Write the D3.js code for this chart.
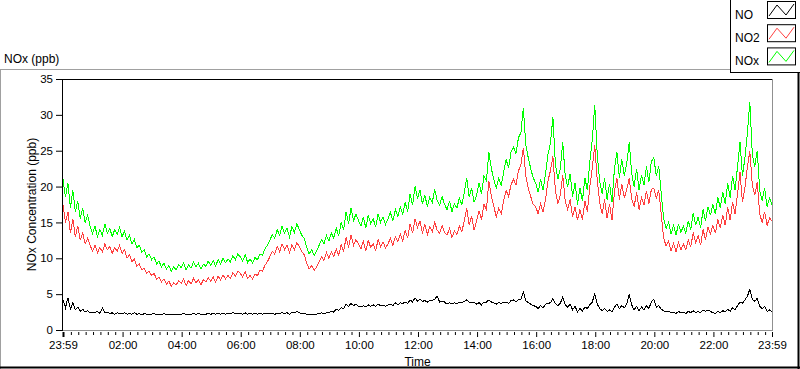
<!DOCTYPE html>
<html lang="en">
<head>
<meta charset="UTF-8">
<title>NOx (ppb)</title>
<script src="https://cdn.jsdelivr.net/npm/d3@7"></script>
<style>
  body { margin: 0; background: #fff; }
  svg { display: block; font-family: "Liberation Sans", Arial, sans-serif; }
  .axis text { fill: #000; }
  .axis line { stroke: #000; }
</style>
</head>
<body>
<svg width="800" height="369"></svg>
<script>
// series, in the order the chart draws them
var seriesNames = ["NO", "NO2", "NOx"];
var seriesColors = ["#000000", "#ff4040", "#00ff00"];

var yTicks = [0, 5, 10, 15, 20, 25, 30, 35];
var xTickLabels = ["23:59", "02:00", "04:00", "06:00", "08:00", "10:00", "12:00",
                   "14:00", "16:00", "18:00", "20:00", "22:00", "23:59"];

// one reading every 5 minutes, 23:59 to 23:59 next day (12 per row = 1 hour)
var sampleMinutes = 5;

var no = [
  4.2, 3.1, 4.5, 2.9, 3.8, 2.8, 3.2, 2.6, 2.9, 2.5, 2.7, 2.4,
  2.5, 2.4, 2.6, 2.3, 3.1, 2.4, 2.5, 2.3, 2.4, 2.2, 2.4, 2.3,
  2.3, 2.4, 2.2, 2.3, 2.2, 2.4, 2.2, 2.3, 2.1, 2.3, 2.2, 2.2,
  2.2, 2.3, 2.1, 2.2, 2.1, 2.3, 2.1, 2.2, 2.1, 2.2, 2.1, 2.2,
  2.2, 2.3, 2.2, 2.2, 2.2, 2.3, 2.2, 2.3, 2.2, 2.2, 2.2, 2.3,
  2.2, 2.3, 2.2, 2.3, 2.2, 2.3, 2.2, 2.3, 2.3, 2.4, 2.3, 2.3,
  2.3, 2.2, 2.4, 2.2, 2.3, 2.2, 2.3, 2.2, 2.3, 2.2, 2.3, 2.3,
  2.3, 2.3, 2.2, 2.3, 2.3, 2.4, 2.3, 2.4, 2.2, 2.5, 2.4, 2.6,
  2.4, 2.3, 2.3, 2.2, 2.1, 2.2, 2.1, 2.2, 2.3, 2.4, 2.3, 2.4,
  2.4, 2.6, 2.5, 2.9, 2.7, 3.1, 3.0, 3.6, 3.3, 3.7, 3.4, 3.6,
  3.3, 3.2, 3.4, 3.2, 3.5, 3.3, 3.5, 3.3, 3.6, 3.4, 3.5, 3.3,
  3.5, 3.6, 3.4, 3.8, 3.5, 3.8, 3.7, 3.9, 3.7, 4.2, 3.9, 4.5,
  4.0, 4.3, 4.0, 4.1, 3.9, 4.1, 4.1, 4.3, 4.7, 3.9, 4.0, 3.9,
  3.6, 3.8, 3.6, 3.8, 3.7, 3.9, 3.8, 4.0, 4.2, 3.9, 3.9, 3.9,
  3.6, 3.8, 3.5, 3.9, 3.9, 4.2, 3.9, 3.8, 3.6, 3.8, 3.7, 3.9,
  3.9, 3.7, 4.1, 4.2, 3.9, 4.2, 4.3, 5.3, 4.1, 3.8, 3.6, 3.4,
  3.3, 3.0, 3.4, 3.1, 3.6, 3.7, 3.8, 4.4, 3.7, 3.4, 3.7, 4.6,
  3.5, 3.2, 3.6, 2.8, 3.3, 2.5, 3.0, 2.6, 3.2, 3.0, 3.5, 3.9,
  5.1, 3.6, 3.0, 2.7, 3.0, 2.6, 2.8, 2.5, 3.2, 3.6, 3.0, 3.4,
  3.1, 3.6, 5.0, 3.5, 2.8, 3.3, 2.7, 3.2, 2.8, 3.4, 3.0, 3.9,
  4.3, 3.2, 3.4, 2.9, 2.7, 2.5, 2.6, 2.4, 2.5, 2.3, 2.6, 2.4,
  2.5, 2.3, 2.6, 2.4, 2.7, 2.4, 2.6, 2.4, 2.8, 2.6, 2.8, 2.6,
  2.4, 2.3, 2.6, 2.4, 2.7, 2.5, 2.9, 2.6, 3.1, 2.8, 3.4, 3.9,
  3.7, 4.2, 4.7, 5.7, 4.3, 4.0, 4.4, 3.3, 3.0, 3.3, 2.6, 2.8,
  2.5
];

var no2 = [
  17.5, 15, 16.5, 13.5, 15.5, 13, 14.5, 12.5, 13.5, 12, 12.8, 11.8,
  11, 11.8, 10.8, 11.5, 10.9, 12, 11.2, 11.6, 10.7, 11.5, 11, 11.8,
  10.7, 11.2, 10, 10.5, 9.5, 9.9, 8.9, 9.2, 8.4, 8.6, 7.9, 8.2,
  7.6, 7.9, 7.1, 7.4, 6.7, 7.1, 6.4, 6.8, 6.1, 6.6, 6.3, 6.9,
  6.5, 7.1, 6.2, 6.9, 6.4, 7.2, 6.6, 7, 6.3, 7, 6.7, 7.3,
  6.8, 7.4, 6.7, 7.5, 7, 7.7, 7.1, 7.6, 7.2, 8, 7.5, 8.2,
  7.9, 7.4, 8.1, 7.2, 7.6, 7.1, 7.8, 7.6, 8.3, 8.2, 9, 9.5,
  10.2, 11, 10.6, 11.7, 10.9, 12, 11.2, 11.8, 10.8, 11.9, 11.2, 12.2,
  11.6, 10.9, 10.5, 9.3, 8.5, 9, 8.3, 8.8, 9.5, 10.2, 9.7, 10.8,
  10, 10.9, 10.3, 11.3, 10.4, 11.9, 11, 12.9, 11.5, 13.3, 11.8, 12.6,
  12, 11.3, 12.4, 11, 12.5, 11.5, 12, 11.1, 12.6, 11.6, 12.3, 11.4,
  12, 12.8, 11.8, 13, 12.3, 13.4, 12.4, 13.9, 12.8, 14.8, 13.5, 15.5,
  14.3, 15.2, 13.6, 14.7, 13.3, 14.4, 13.7, 15, 13.9, 13.5, 14.6, 13.6,
  13.2, 14.2, 12.9, 13.8, 13.3, 14.5, 13.7, 15.2, 17, 14.6, 15.9, 13.9,
  15.3, 16.6, 15.4, 17.5, 16.8, 20.8, 18.6, 17.2, 15.8, 17, 16.2, 18,
  19.5, 18.6, 20.3, 21, 20.2, 22.2, 23, 25.4, 21.5, 19.8, 18.6, 17.5,
  17.2, 16.2, 17.6, 16.4, 18.2, 20.8, 22.2, 24.2, 19.5, 17.6, 18.8, 21.6,
  18, 16.8, 18.2, 15.8, 17.2, 15.3, 16.8, 15.4, 18, 16.5, 20, 22.6,
  25.8, 21, 17.8, 16.2, 18.2, 15.6, 17.6, 15.3, 19.3, 21.2, 18.2, 20.4,
  18.4, 19.6, 21.2, 18.3, 17.2, 19.2, 16.8, 18.4, 17.4, 19.4, 17.6, 19.6,
  19.8, 18.4, 19.5, 16.2, 12.8, 11.7, 12.4, 11, 12.1, 10.9, 12.2, 11.2,
  12, 11.2, 12.6, 11.6, 13.6, 12.2, 13.2, 11.8, 14, 12.6, 14.4, 13.4,
  14.6, 13.5, 15.4, 14.2, 16, 14.6, 17.1, 15.3, 17.9, 16.2, 19, 22,
  17.8, 19.8, 22.8, 24.9, 20.2, 18.8, 20.6, 16.2, 15, 16.5, 14.6, 15.6,
  15.2
];

var nox = [
  21, 18.5, 20.5, 17, 19.5, 16.5, 18, 15.5, 17, 15, 16, 14.5,
  13.5, 14.5, 13, 14, 13.2, 14.8, 13.5, 14.2, 13, 14, 13.3, 14.3,
  13, 13.8, 12.5, 13.2, 12, 12.6, 11.5, 11.8, 10.8, 11.2, 10.2, 10.6,
  9.8, 10.2, 9.2, 9.6, 8.8, 9.3, 8.5, 9, 8.2, 8.8, 8.4, 9.1,
  8.7, 9.4, 8.4, 9.1, 8.6, 9.5, 8.8, 9.3, 8.5, 9.2, 8.9, 9.6,
  9, 9.7, 8.9, 9.8, 9.2, 10, 9.4, 9.9, 9.5, 10.4, 9.8, 10.6,
  10.2, 9.6, 10.5, 9.4, 9.9, 9.3, 10.1, 9.8, 10.6, 10.4, 11.3, 11.8,
  12.5, 13.3, 12.8, 14, 13.2, 14.5, 13.5, 14.2, 13, 14.4, 13.6, 14.8,
  14, 13.2, 12.8, 11.5, 10.6, 11.2, 10.4, 11, 11.8, 12.6, 12, 13.2,
  12.4, 13.5, 12.8, 14.2, 13.1, 15, 14, 16.5, 14.8, 17, 15.2, 16.2,
  15.3, 14.5, 15.8, 14.2, 16, 14.8, 15.5, 14.4, 16.2, 15, 15.8, 14.7,
  15.5, 16.4, 15.2, 16.8, 15.8, 17.2, 16.1, 17.8, 16.5, 19, 17.4, 20,
  18.3, 19.5, 17.6, 18.8, 17.2, 18.5, 17.8, 19.6, 18, 17.4, 18.6, 17.5,
  16.8, 18, 16.5, 17.6, 17, 18.4, 17.5, 19.2, 21.2, 18.5, 19.8, 17.8,
  18.8, 20.5, 19, 21.5, 20.8, 24.8, 22.5, 21, 19.8, 21.2, 20.2, 22,
  23.8, 22.6, 24.8, 25.5, 24.6, 26.8, 27.5, 31, 25.8, 24, 22.5, 21.2,
  20.5, 19.2, 21, 19.5, 21.8, 24.5, 26, 29.7, 23.2, 21, 22.5, 26.2,
  21.5, 20, 21.8, 18.6, 20.5, 17.5, 19.8, 18, 21.2, 19.5, 23.5, 26.5,
  31.4, 24.5, 20.8, 19, 21.2, 18.2, 20.4, 17.8, 22.5, 24.8, 21.2, 23.8,
  21.5, 23.2, 26.2, 21.8, 20, 22.5, 19.5, 21.6, 20.2, 22.8, 20.6, 23.5,
  24, 21.5, 22.8, 19, 15.5, 14.2, 15, 13.4, 14.6, 13.2, 14.8, 13.6,
  14.5, 13.5, 15.2, 14, 16.3, 14.6, 15.8, 14.2, 16.8, 15.2, 17.2, 16,
  17.5, 16.2, 18.5, 17, 19.2, 17.6, 20.5, 18.4, 21.5, 19.5, 22.8, 26.2,
  21.5, 24, 27.5, 31.8, 24.5, 22.8, 25, 19.5, 18, 19.8, 17.2, 18.4,
  17.5
];

var series = [no, no2, nox];

var svg = d3.select("svg");
var startTime = new Date(2000, 0, 1, 23, 59);
var endTime = new Date(2000, 0, 2, 23, 59);
function timeAt(i) { return d3.timeMinute.offset(startTime, i * sampleMinutes); }

var plotLeft = 63, plotRight = 772, plotTop = 79, plotBottom = 330;
var x = d3.scaleTime().domain([startTime, endTime]).range([plotLeft, plotRight]);
var y = d3.scaleLinear().domain([0, 35]).range([plotBottom, plotTop]);

// outer panel frame
svg.append("line").attr("x1", 0).attr("x2", 730).attr("y1", 69.5).attr("y2", 69.5).attr("stroke", "#a0a0a0");
svg.append("line").attr("x1", 0.5).attr("x2", 0.5).attr("y1", 69).attr("y2", 369).attr("stroke", "#a0a0a0");
svg.append("line").attr("x1", 0).attr("x2", 800).attr("y1", 367.5).attr("y2", 367.5).attr("stroke", "#000").attr("stroke-width", 2);
svg.append("line").attr("x1", 798.5).attr("x2", 798.5).attr("y1", 72).attr("y2", 369).attr("stroke", "#000").attr("stroke-width", 2);

svg.append("text").attr("x", 4).attr("y", 63).attr("font-size", 12).text("NOx (ppb)");

// plot frame
svg.append("line").attr("x1", plotLeft - 1).attr("x2", plotRight).attr("y1", plotTop + 0.5).attr("y2", plotTop + 0.5).attr("stroke", "#000");
svg.append("line").attr("x1", plotRight + 0.5).attr("x2", plotRight + 0.5).attr("y1", plotTop).attr("y2", plotBottom + 1).attr("stroke", "#909090");
svg.append("line").attr("x1", plotLeft - 1).attr("x2", plotRight + 1).attr("y1", plotBottom + 0.5).attr("y2", plotBottom + 0.5).attr("stroke", "#909090");
svg.append("line").attr("x1", plotLeft - 0.5).attr("x2", plotLeft - 0.5).attr("y1", plotTop).attr("y2", plotBottom + 1).attr("stroke", "#000");

// y axis
var yAxis = svg.append("g").attr("class", "axis")
  .attr("transform", "translate(" + (plotLeft - 1) + ",0)")
  .call(d3.axisLeft(y).tickValues(yTicks).tickSize(6).tickPadding(3).tickSizeOuter(0))
  .attr("font-family", null).attr("font-size", 11.5);
yAxis.select(".domain").remove();

svg.append("text")
  .attr("transform", "translate(36," + ((plotTop + plotBottom) / 2) + ") rotate(-90)")
  .attr("text-anchor", "middle").attr("font-size", 12)
  .text("NOx Concentration (ppb)");

// x axis: majors every 2 h plus both ends, minors every 15 min
var majorTicks = [startTime]
  .concat(d3.timeHour.every(2).range(d3.timeMinute.offset(startTime, 61), endTime))
  .concat([endTime]);
var minorTicks = d3.timeMinute.every(15).range(startTime, endTime).filter(function(d) {
  return !(d.getMinutes() === 0 && d.getHours() % 2 === 0);
});

var xMinor = svg.append("g").attr("class", "axis")
  .attr("transform", "translate(0," + (plotBottom + 2) + ")")
  .call(d3.axisBottom(x).tickValues(minorTicks).tickSize(3).tickFormat("").tickSizeOuter(0));
xMinor.select(".domain").remove();

var xMajor = svg.append("g").attr("class", "axis")
  .attr("transform", "translate(0," + (plotBottom + 2) + ")")
  .call(d3.axisBottom(x).tickValues(majorTicks).tickSize(5).tickPadding(4).tickSizeOuter(0)
    .tickFormat(function(d, i) { return xTickLabels[i]; }))
  .attr("font-family", null).attr("font-size", 11.5);
xMajor.select(".domain").remove();
xMajor.select(".tick line").attr("stroke-width", 2);

svg.append("text").attr("x", (plotLeft + plotRight) / 2).attr("y", 366)
  .attr("text-anchor", "middle").attr("font-size", 12).text("Time");

// plots
var line = d3.line()
  .x(function(d, i) { return x(timeAt(i)); })
  .y(function(d) { return y(d); });

svg.append("g").selectAll("path")
  .data(series)
  .enter().append("path")
  .attr("d", line)
  .attr("fill", "none")
  .attr("stroke", function(d, i) { return seriesColors[i]; })
  .attr("stroke-width", 1)
  .attr("shape-rendering", "crispEdges");

// legend
var legend = svg.append("g").attr("transform", "translate(730,0)");
legend.append("line").attr("x1", 0.5).attr("x2", 0.5).attr("y1", 0).attr("y2", 73).attr("stroke", "#000");
legend.append("line").attr("x1", 0).attr("x2", 70).attr("y1", 72.5).attr("y2", 72.5).attr("stroke", "#000");

var zig = [[2, 15], [10, 4], [19, 14], [27, 3]];
var item = legend.selectAll(".item")
  .data(seriesNames)
  .enter().append("g")
  .attr("class", "item")
  .attr("transform", function(d, i) { return "translate(0," + (i * 23.2) + ")"; });

item.append("text").attr("x", 5).attr("y", 18.5).attr("font-size", 12).text(function(d) { return d; });
item.append("rect").attr("x", 37.5).attr("y", 1.5).attr("width", 28).attr("height", 17)
  .attr("fill", "#fff").attr("stroke", "#000");
item.append("path")
  .attr("transform", "translate(37,1)")
  .attr("d", d3.line()(zig))
  .attr("fill", "none")
  .attr("stroke", function(d, i) { return seriesColors[i]; });
</script>
</body>
</html>
